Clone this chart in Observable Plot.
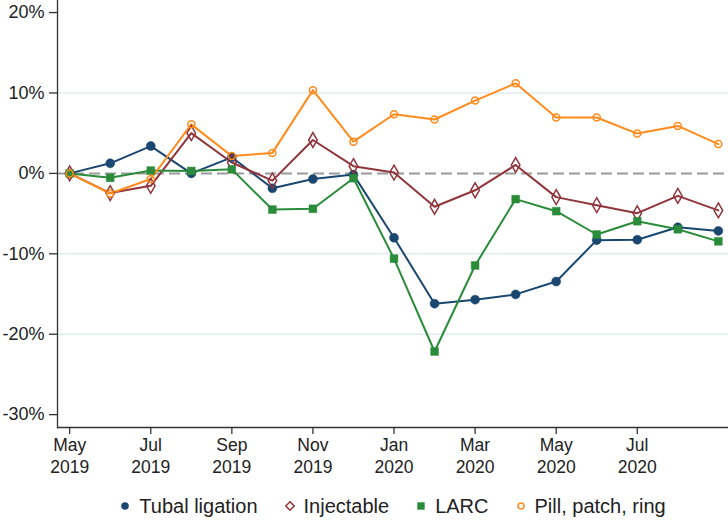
<!DOCTYPE html>
<html>
<head>
<meta charset="utf-8">
<script src="https://cdn.jsdelivr.net/npm/d3@7"></script>
<script src="https://cdn.jsdelivr.net/npm/@observablehq/plot@0.6"></script>
<style>
  body { margin: 0; background: #fff; font-family: "Liberation Sans", Arial, Helvetica, sans-serif; }
  #chart svg { display: block; }
  .legend { display: flex; justify-content: center; align-items: center; padding-left: 57px; margin-top: 10px; height: 24px; font-size: 20px; color: #222; }
  .legend .item { display: flex; align-items: center; margin: 0 13px; }
  .legend svg { margin-right: 8px; }
</style>
</head>
<body>
<div id="chart"></div>
<div class="legend" id="legend"></div>
<script>
const months = ["May 2019","Jun 2019","Jul 2019","Aug 2019","Sep 2019","Oct 2019","Nov 2019","Dec 2019",
  "Jan 2020","Feb 2020","Mar 2020","Apr 2020","May 2020","Jun 2020","Jul 2020","Aug 2020","Sep 2020"];
const tubal = [0, 1.25, 3.4, 0, 2.0, -1.85, -0.7, -0.15, -8.0, -16.2, -15.7, -15.05, -13.45, -8.3, -8.25, -6.7, -7.15];
const injectable = [0, -2.45, -1.55, 5.0, 1.35, -0.9, 4.15, 0.9, 0.1, -4.15, -2.1, 1.05, -2.95, -3.95, -4.95, -2.8, -4.6];
const larc = [0, -0.55, 0.35, 0.3, 0.5, -4.5, -4.4, -0.6, -10.6, -22.15, -11.45, -3.2, -4.7, -7.6, -5.95, -6.95, -8.45];
const pill = [0, -2.5, -0.7, 6.1, 2.15, 2.55, 10.35, 3.95, 7.35, 6.7, 9.05, 11.2, 6.95, 6.95, 4.95, 5.9, 3.65];
const yTicks = [-30, -20, -10, 0, 10, 20];
const gridTicks = [-20, -10, 10];
const xTicks = [0, 2, 4, 6, 8, 10, 12, 14];

const series = [
  {name: "Tubal ligation", values: tubal, color: "#1a476f", symbol: "circle", fill: true, r: 4.5},
  {name: "Injectable", values: injectable, color: "#90353b", symbol: "diamond", fill: false, r: 4.5},
  {name: "LARC", values: larc, color: "#2a8c3a", symbol: "square", fill: true, r: 4.4},
  {name: "Pill, patch, ring", values: pill, color: "#ff8b1c", symbol: "circle", fill: false, r: 3.5}
];

const rows = s => s.values.map((v, i) => ({i, v, name: s.name}));

const marks = [
  Plot.ruleY(gridTicks, {stroke: "#e1ecf0", strokeWidth: 1.5}),
  Plot.ruleY([0], {stroke: "#9a9a9a", strokeWidth: 2, strokeDasharray: "11,5"}),
  Plot.frame({anchor: "left", stroke: "#333", strokeWidth: 1.3}),
  Plot.frame({anchor: "bottom", stroke: "#333", strokeWidth: 1.3}),
  Plot.axisY({ticks: yTicks, tickFormat: d => d + "%", tickSize: 8, tickPadding: 5, fontSize: 18, label: null, stroke: "#333", strokeWidth: 1.3, fill: "#222"}),
  Plot.axisX({ticks: xTicks, tickFormat: i => months[i].split(" ")[0], tickSize: 7, tickPadding: 4, fontSize: 17.5, label: null, stroke: "#333", strokeWidth: 1.3, fill: "#222"}),
  Plot.axisX({ticks: xTicks, tickFormat: i => months[i].split(" ")[1], tickSize: 0, tickPadding: 33, fontSize: 17.5, label: null, fill: "#222"}),
];
for (const s of series) {
  marks.push(Plot.line(rows(s), {x: "i", y: "v", stroke: s.color, strokeWidth: 2}));
}
for (const s of series) {
  marks.push(Plot.dot(rows(s), {x: "i", y: "v", symbol: () => s.symbol, r: s.r,
    fill: s.fill ? s.color : "none", stroke: s.color, strokeWidth: s.fill ? 0.5 : 1.5}));
}

const chart = Plot.plot({
  width: 728,
  height: 484,
  marginTop: 0,
  marginLeft: 57,
  marginRight: 0,
  marginBottom: 57,
  style: {fontFamily: "'Liberation Sans', Arial, Helvetica, sans-serif", fontSize: "18px", color: "#222", background: "#fff"},
  x: {type: "linear", domain: [-0.30, 16.25], axis: null},
  y: {domain: [-31.6, 21.5], axis: null},
  symbol: {type: "identity"},
  marks
});
document.getElementById("chart").appendChild(chart);

const legend = document.getElementById("legend");
const legendShapes = {
  "Tubal ligation": c => `<circle cx="6" cy="6" r="3.8" fill="${c}"/>`,
  "Injectable": c => `<path d="M6 1.8 L10.2 6 L6 10.2 L1.8 6 Z" fill="none" stroke="${c}" stroke-width="1.5"/>`,
  "LARC": c => `<rect x="2.3" y="2.3" width="7.4" height="7.4" fill="${c}"/>`,
  "Pill, patch, ring": c => `<circle cx="6" cy="6" r="3" fill="none" stroke="${c}" stroke-width="1.5"/>`
};
for (const s of series) {
  const item = document.createElement("div");
  item.className = "item";
  item.innerHTML = `<svg width="12" height="12">${legendShapes[s.name](s.color)}</svg><span>${s.name}</span>`;
  legend.appendChild(item);
}
</script>
</body>
</html>
